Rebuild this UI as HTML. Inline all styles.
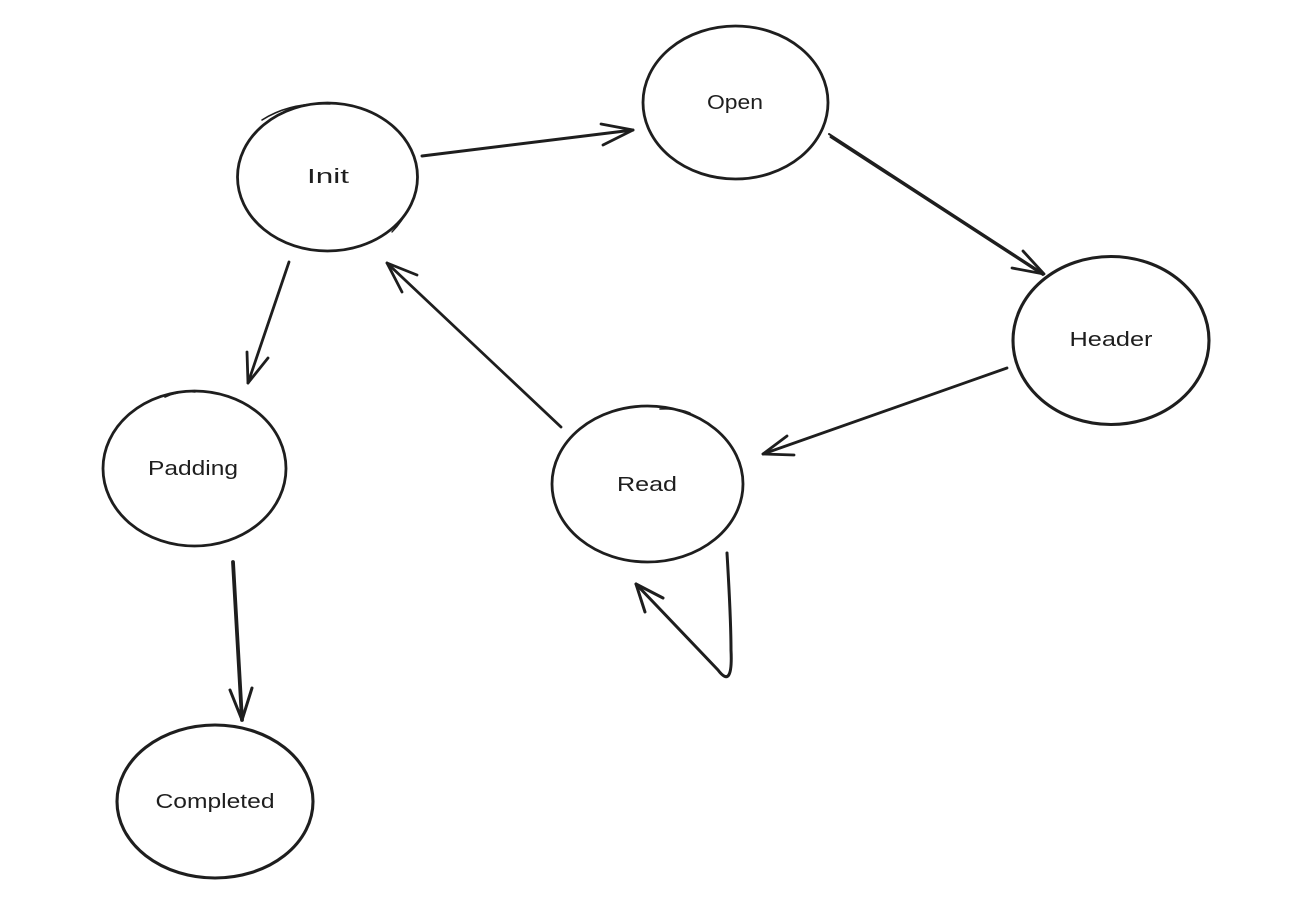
<!DOCTYPE html>
<html>
<head>
<meta charset="utf-8">
<style>
  html,body{margin:0;padding:0;background:#ffffff;}
  svg{display:block;}
  text{font-family:"Liberation Sans","DejaVu Sans",sans-serif;font-size:20px;fill:#1e1e1e;}
</style>
</head>
<body>
<svg width="1299" height="908" viewBox="0 0 1299 908" xmlns="http://www.w3.org/2000/svg">
  <rect width="1299" height="908" fill="#ffffff"/>
  <g fill="none" stroke="#1e1e1e" stroke-width="2.8" stroke-linecap="round" stroke-linejoin="round">
    <!-- Ellipses -->
    <ellipse cx="327.5" cy="177" rx="90" ry="74"/>
    <path d="M262,120 Q290,102 330,104" stroke-width="1.6"/>
    <path d="M410,206 Q402,222 392,232" stroke-width="1.4"/>
    <ellipse cx="735.5" cy="102.5" rx="92.5" ry="76.5"/>
    <ellipse cx="1111" cy="340.5" rx="98" ry="84" stroke-width="3.1"/>
    <ellipse cx="194.5" cy="468.5" rx="91.5" ry="77.5"/>
    <path d="M165,397 Q180,390 195,392" stroke-width="1.6"/>
    <ellipse cx="647.5" cy="484" rx="95.5" ry="78"/>
    <path d="M660,409 Q678,408 690,413" stroke-width="1.6"/>
    <ellipse cx="215" cy="801.5" rx="98" ry="76.5" stroke-width="3.1"/>

    <!-- Init -> Open -->
    <path d="M422,156 L633,130" stroke-width="3"/>
    <path d="M601,124 L633,130 L603,145"/>

    <!-- Open -> Header (double stroke) -->
    <path d="M829,134 L1044,274" stroke-width="2"/>
    <path d="M830.5,137 L1043,275" stroke-width="2"/>
    <path d="M1023,251 L1044,274 L1012,268"/>

    <!-- Header -> Read -->
    <path d="M1007,368 L763,454"/>
    <path d="M787,436 L763,454 L794,455"/>

    <!-- Read -> Init -->
    <path d="M561,427 L387,263"/>
    <path d="M417,275 L387,263 L402,292"/>

    <!-- Init -> Padding -->
    <path d="M289,262 L248,383"/>
    <path d="M247,352 L248,383 L268,358"/>

    <!-- Padding -> Completed -->
    <path d="M233,562 L242,720" stroke-width="3.8"/>
    <path d="M230,690 L242,720 L252,688" stroke-width="3"/>

    <!-- Read self loop -->
    <path d="M727,553 Q731,620 731,650 Q733,690 718,670 L636,584" stroke-width="3"/>
    <path d="M645,612 L636,584 L663,598" stroke-width="3"/>
  </g>

  <!-- Labels -->
  <text x="328" y="177" text-anchor="middle" dominant-baseline="central" textLength="42" lengthAdjust="spacingAndGlyphs">Init</text>
  <text x="735" y="103" text-anchor="middle" dominant-baseline="central" textLength="56" lengthAdjust="spacingAndGlyphs">Open</text>
  <text x="1111" y="340" text-anchor="middle" dominant-baseline="central" textLength="83" lengthAdjust="spacingAndGlyphs">Header</text>
  <text x="193" y="469" text-anchor="middle" dominant-baseline="central" textLength="90" lengthAdjust="spacingAndGlyphs">Padding</text>
  <text x="647" y="485" text-anchor="middle" dominant-baseline="central" textLength="60" lengthAdjust="spacingAndGlyphs">Read</text>
  <text x="215" y="802" text-anchor="middle" dominant-baseline="central" textLength="119" lengthAdjust="spacingAndGlyphs">Completed</text>
</svg>
</body>
</html>
